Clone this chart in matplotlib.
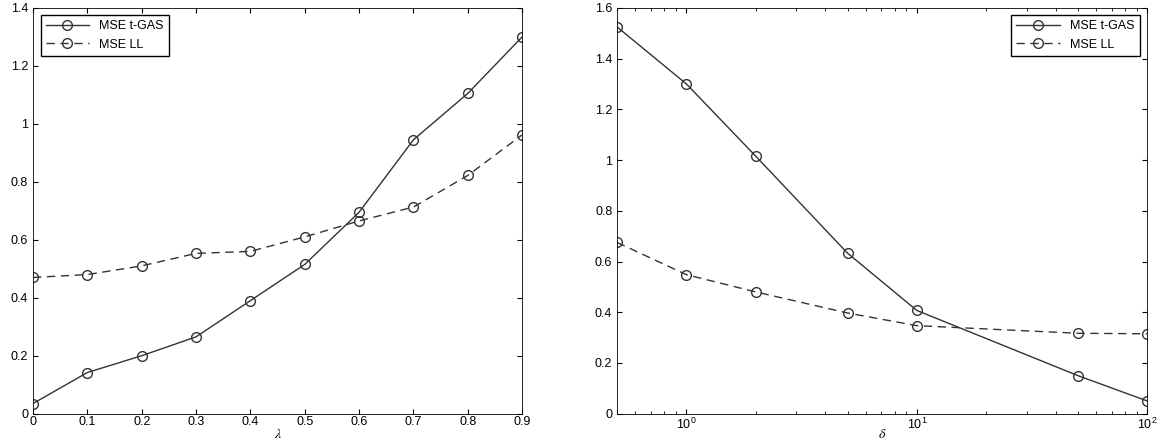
import numpy as np
import matplotlib.pyplot as plt

lam = [0, 0.1, 0.2, 0.3, 0.4, 0.5, 0.6, 0.7, 0.8, 0.9]
lam_tgas = [0.035, 0.142, 0.2, 0.265, 0.39, 0.515, 0.695, 0.945, 1.105, 1.3]
lam_ll = [0.47, 0.48, 0.51, 0.553, 0.56, 0.61, 0.665, 0.713, 0.822, 0.962]

delta = [0.5, 1, 2, 5, 10, 50, 100]
delta_tgas = [1.525, 1.3, 1.015, 0.633, 0.407, 0.15, 0.05]
delta_ll = [0.675, 0.548, 0.48, 0.397, 0.347, 0.317, 0.315]

plt.rcParams['font.family'] = ['Liberation Sans', 'DejaVu Sans']
plt.rcParams['font.size'] = 9
plt.rcParams['mathtext.fontset'] = 'stix'

fig = plt.figure(figsize=(11.6, 4.41), dpi=100)
ax1 = fig.add_axes([0.0285, 0.062, 0.4216, 0.92])
ax2 = fig.add_axes([0.532, 0.062, 0.457, 0.92])

style = dict(color='#333333', marker='o', markersize=7, markerfacecolor='none',
             linewidth=1.0)

ax1.plot(lam, lam_tgas, '-', label='MSE t-GAS', **style)
ax1.plot(lam, lam_ll, '--', dashes=(6, 4), label='MSE LL', **style)
ax1.set_xlim(0, 0.9)
ax1.set_ylim(0, 1.4)
ax1.set_xticks(np.arange(0, 0.91, 0.1))
ax1.set_xticklabels(['0', '0.1', '0.2', '0.3', '0.4', '0.5', '0.6', '0.7', '0.8', '0.9'])
ax1.set_yticks(np.arange(0, 1.41, 0.2))
ax1.set_yticklabels(['0', '0.2', '0.4', '0.6', '0.8', '1', '1.2', '1.4'])
ax1.set_xlabel(r'$\lambda$', fontsize=10)
ax1.legend(loc='upper left', fancybox=False, edgecolor='black', handlelength=3.5,
           borderaxespad=0.6, framealpha=1)

ax2.plot(delta, delta_tgas, '-', label='MSE t-GAS', **style)
ax2.plot(delta, delta_ll, '--', dashes=(6, 4), label='MSE LL', **style)
ax2.set_xscale('log')
ax2.set_xlim(0.5, 100)
ax2.set_ylim(0, 1.6)
ax2.set_yticks(np.arange(0, 1.61, 0.2))
ax2.set_yticklabels(['0', '0.2', '0.4', '0.6', '0.8', '1', '1.2', '1.4', '1.6'])
ax2.set_xlabel(r'$\delta$', fontsize=10)
ax2.legend(loc='upper right', fancybox=False, edgecolor='black', handlelength=3.5,
           borderaxespad=0.6, framealpha=1)

for ax in (ax1, ax2):
    ax.tick_params(direction='in', which='both', top=True, right=True, labelsize=9)
    ax.tick_params(axis='x', pad=2)
    ax.xaxis.set_label_coords(0.5, -0.032)
    for s in ax.spines.values():
        s.set_linewidth(0.6)

fig.savefig('out.png', dpi=100)
